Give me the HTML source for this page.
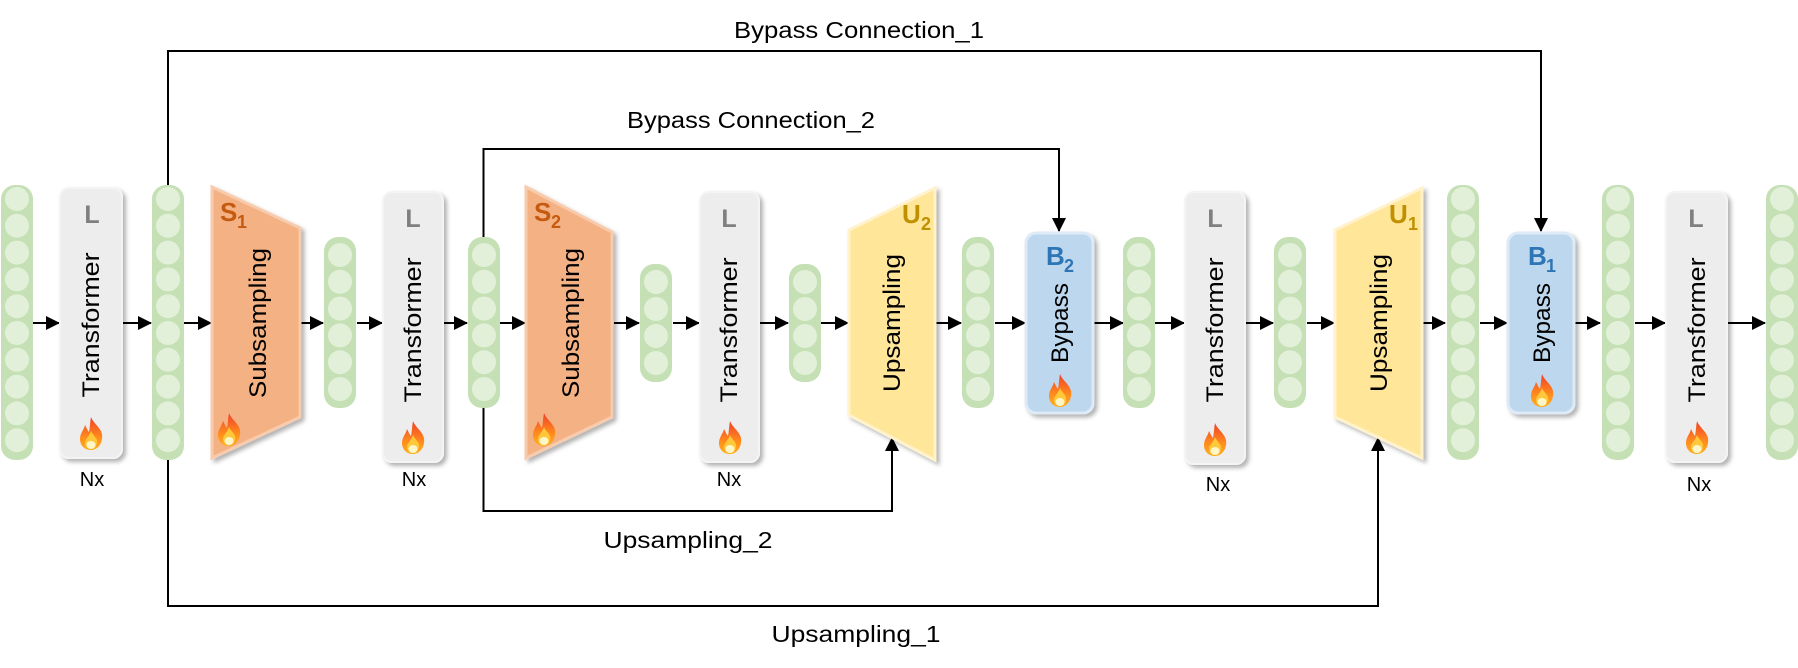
<!DOCTYPE html>
<html><head><meta charset="utf-8"><style>
html,body{margin:0;padding:0;background:#fff;}
svg{display:block;font-family:"Liberation Sans",sans-serif;}
</style></head><body>
<svg width="1798" height="668" viewBox="0 0 1798 668" xmlns="http://www.w3.org/2000/svg">
<defs>
<marker id="ar" markerUnits="userSpaceOnUse" markerWidth="14" markerHeight="14" refX="13" refY="7" orient="auto"><path d="M0,0 L14,7 L0,14 Z" fill="#000"/></marker>
<filter id="sh" x="-20%" y="-10%" width="150%" height="130%"><feDropShadow dx="3" dy="3" stdDeviation="2" flood-color="#000" flood-opacity="0.3"/></filter>
<linearGradient id="fg" x1="0" y1="0" x2="0" y2="1"><stop offset="0" stop-color="#f0402a"/><stop offset="0.6" stop-color="#ff8a1c"/><stop offset="1" stop-color="#ffb020"/></linearGradient>
<symbol id="flame" viewBox="0 0 26 33" width="26" height="33" overflow="visible">
<path d="M13 0 C16 8,26 12,24 22 C23 29,18 33,13 33 C7 33,2 29,2 22 C2 16,6 13,7 8 C9 12,10 14,11 15 C12 10,12 5,13 0 Z" fill="url(#fg)"/>
<path d="M13 14 C15 19,20 21,19 26 C18 30,16 32,13 32 C10 32,7 30,7 26 C7 22,11 20,13 14 Z" fill="#ffc83a"/>
<ellipse cx="13" cy="28" rx="4.5" ry="4" fill="#fff6c8"/>
</symbol>
<symbol id="c10" width="34" height="276" overflow="visible">
<rect x="0" y="0" width="32" height="275" rx="14" fill="#c5e0b4"/>
<g fill="#e2f0d9"><circle cx="16" cy="14" r="12"/><circle cx="16" cy="40.8" r="12"/><circle cx="16" cy="67.6" r="12"/><circle cx="16" cy="94.4" r="12"/><circle cx="16" cy="121.2" r="12"/><circle cx="16" cy="148" r="12"/><circle cx="16" cy="174.8" r="12"/><circle cx="16" cy="201.6" r="12"/><circle cx="16" cy="228.4" r="12"/><circle cx="16" cy="255.2" r="12"/></g>
</symbol>
<symbol id="c6" width="34" height="172" overflow="visible">
<rect x="0" y="0" width="32" height="171" rx="14" fill="#c5e0b4"/>
<g fill="#e2f0d9"><circle cx="16" cy="18" r="12"/><circle cx="16" cy="44.8" r="12"/><circle cx="16" cy="71.6" r="12"/><circle cx="16" cy="98.4" r="12"/><circle cx="16" cy="125.2" r="12"/><circle cx="16" cy="152" r="12"/></g>
</symbol>
<symbol id="c4" width="34" height="119" overflow="visible">
<rect x="0" y="0" width="32" height="118" rx="14" fill="#c5e0b4"/>
<g fill="#e2f0d9"><circle cx="16" cy="18" r="12"/><circle cx="16" cy="45" r="12"/><circle cx="16" cy="72" r="12"/><circle cx="16" cy="99" r="12"/></g>
</symbol>
</defs>

<g fill="none" stroke="#000" stroke-width="2">
<path d="M168 185 V51 H1541 V231" marker-end="url(#ar)"/>
<path d="M483.5 237 V149 H1059 V231" marker-end="url(#ar)"/>
<path d="M483.5 408 V511 H892 V438" marker-end="url(#ar)"/>
<path d="M168 460 V606 H1378 V438" marker-end="url(#ar)"/>
</g>
<g font-size="23" fill="#000">
<text x="859" y="38" text-anchor="middle" textLength="250" lengthAdjust="spacingAndGlyphs">Bypass Connection_1</text>
<text x="751" y="128" text-anchor="middle" textLength="248" lengthAdjust="spacingAndGlyphs">Bypass Connection_2</text>
<text x="688" y="548" text-anchor="middle" textLength="169" lengthAdjust="spacingAndGlyphs">Upsampling_2</text>
<text x="856" y="642" text-anchor="middle" textLength="169" lengthAdjust="spacingAndGlyphs">Upsampling_1</text>
</g>

<g stroke="#000" stroke-width="2" marker-end="url(#ar)">
<line x1="33" y1="323" x2="59" y2="323"/>
<line x1="123" y1="323" x2="151" y2="323"/>
<line x1="184" y1="323" x2="211" y2="323"/>
<line x1="301" y1="323" x2="323" y2="323"/>
<line x1="357" y1="323" x2="382" y2="323"/>
<line x1="444" y1="323" x2="467" y2="323"/>
<line x1="500" y1="323" x2="525" y2="323"/>
<line x1="614" y1="323" x2="639" y2="323"/>
<line x1="673" y1="323" x2="699" y2="323"/>
<line x1="760" y1="323" x2="788" y2="323"/>
<line x1="821" y1="323" x2="848" y2="323"/>
<line x1="936" y1="323" x2="961" y2="323"/>
<line x1="995" y1="323" x2="1025" y2="323"/>
<line x1="1094" y1="323" x2="1123" y2="323"/>
<line x1="1155" y1="323" x2="1184" y2="323"/>
<line x1="1246" y1="323" x2="1273" y2="323"/>
<line x1="1307" y1="323" x2="1334" y2="323"/>
<line x1="1423" y1="323" x2="1445" y2="323"/>
<line x1="1480" y1="323" x2="1507" y2="323"/>
<line x1="1575" y1="323" x2="1600" y2="323"/>
<line x1="1635" y1="323" x2="1665" y2="323"/>
<line x1="1728" y1="323" x2="1765" y2="323"/>
</g>

<use href="#c10" x="1" y="185"/>
<use href="#c10" x="152" y="185"/>
<use href="#c6" x="324" y="237"/>
<use href="#c6" x="468" y="237"/>
<use href="#c4" x="640" y="264"/>
<use href="#c4" x="789" y="264"/>
<use href="#c6" x="962" y="237"/>
<use href="#c6" x="1123" y="237"/>
<use href="#c6" x="1274" y="237"/>
<use href="#c10" x="1447" y="185"/>
<use href="#c10" x="1602" y="185"/>
<use href="#c10" x="1766" y="185"/>

<g filter="url(#sh)" fill="#ededed" stroke="#f4f4f4" stroke-width="2">
<rect x="60" y="188" width="62" height="270" rx="9"/>
<rect x="383" y="192" width="60" height="270" rx="9"/>
<rect x="700" y="192" width="59" height="270" rx="9"/>
<rect x="1185" y="192" width="60" height="272" rx="9"/>
<rect x="1666" y="192" width="61" height="270" rx="9"/>
</g>
<g font-size="25" font-weight="bold" fill="#7f7f7f" text-anchor="middle">
<text x="92" y="223">L</text><text x="413" y="227">L</text><text x="729" y="227">L</text><text x="1215" y="227">L</text><text x="1696" y="227">L</text>
</g>
<g font-size="24" fill="#000" text-anchor="middle">
<text transform="translate(99,325) rotate(-90)" textLength="145" lengthAdjust="spacingAndGlyphs">Transformer</text>
<text transform="translate(421,330) rotate(-90)" textLength="145" lengthAdjust="spacingAndGlyphs">Transformer</text>
<text transform="translate(737,330) rotate(-90)" textLength="145" lengthAdjust="spacingAndGlyphs">Transformer</text>
<text transform="translate(1223,330) rotate(-90)" textLength="145" lengthAdjust="spacingAndGlyphs">Transformer</text>
<text transform="translate(1705,330) rotate(-90)" textLength="145" lengthAdjust="spacingAndGlyphs">Transformer</text>
</g>
<use href="#flame" x="78" y="417"/>
<use href="#flame" x="400" y="421"/>
<use href="#flame" x="717" y="421"/>
<use href="#flame" x="1202" y="423"/>
<use href="#flame" x="1684" y="421"/>
<g font-size="20" fill="#000" text-anchor="middle">
<text x="92" y="486">Nx</text><text x="414" y="486">Nx</text><text x="729" y="486">Nx</text><text x="1218" y="491">Nx</text><text x="1699" y="491">Nx</text>
</g>

<g filter="url(#sh)" fill="#f4b183" stroke="#f8cbad" stroke-width="3">
<polygon points="212,187 300,228 300,417 212,458"/>
<polygon points="526,187 612,232 612,417 526,458"/>
</g>
<g font-size="24" fill="#000" text-anchor="middle">
<text transform="translate(266,323) rotate(-90)" textLength="150" lengthAdjust="spacingAndGlyphs">Subsampling</text>
<text transform="translate(579,323) rotate(-90)" textLength="150" lengthAdjust="spacingAndGlyphs">Subsampling</text>
</g>
<g font-weight="bold" fill="#c55a11">
<text x="220" y="221" font-size="26">S</text><text x="237" y="228" font-size="18">1</text>
<text x="534" y="221" font-size="26">S</text><text x="551" y="228" font-size="18">2</text>
</g>
<use href="#flame" x="216" y="413"/>
<use href="#flame" x="531" y="413"/>

<g filter="url(#sh)" fill="#ffe699" stroke="#fff2cc" stroke-width="3">
<polygon points="849,230 935,188 935,460 849,415"/>
<polygon points="1335,230 1422,188 1422,458 1335,417"/>
</g>
<g font-size="24" fill="#000" text-anchor="middle">
<text transform="translate(900,323) rotate(-90)" textLength="138" lengthAdjust="spacingAndGlyphs">Upsampling</text>
<text transform="translate(1387,323) rotate(-90)" textLength="138" lengthAdjust="spacingAndGlyphs">Upsampling</text>
</g>
<g font-weight="bold" fill="#bf9000">
<text x="902" y="223" font-size="26">U</text><text x="921" y="230" font-size="18">2</text>
<text x="1389" y="223" font-size="26">U</text><text x="1408" y="230" font-size="18">1</text>
</g>

<g filter="url(#sh)" fill="#bdd7ee" stroke="#deebf7" stroke-width="3">
<rect x="1026" y="233" width="67" height="180" rx="10"/>
<rect x="1508" y="233" width="66" height="180" rx="10"/>
</g>
<g font-weight="bold" fill="#2e75b6">
<text x="1046" y="265" font-size="26">B</text><text x="1064" y="272" font-size="18">2</text>
<text x="1528" y="265" font-size="26">B</text><text x="1546" y="272" font-size="18">1</text>
</g>
<g font-size="24" fill="#000" text-anchor="middle">
<text transform="translate(1068,323) rotate(-90)" textLength="80" lengthAdjust="spacingAndGlyphs">Bypass</text>
<text transform="translate(1550,323) rotate(-90)" textLength="80" lengthAdjust="spacingAndGlyphs">Bypass</text>
</g>
<use href="#flame" x="1047" y="374"/>
<use href="#flame" x="1529" y="374"/>
</svg>
</body></html>
